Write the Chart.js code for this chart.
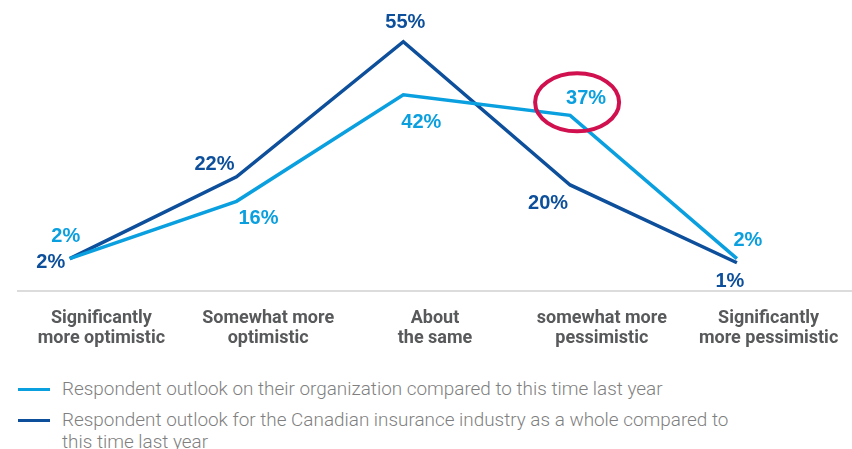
<!DOCTYPE html>
<html>
<head>
<meta charset="utf-8">
<script src="https://cdn.jsdelivr.net/npm/chart.js@4"></script>
<style>
  body { margin: 0; background: #fff; }
  .wrap { position: relative; width: 852px; height: 449px; overflow: hidden; }
  #outlook { position: absolute; left: 0; top: 0; }
  .legend { position: absolute; left: 18px; top: 378px; font-family: Roboto, "Liberation Sans", sans-serif; font-weight: 300; font-size: 18.9px; line-height: 22px; color: #7f7f7f; }
  .legend_item { position: relative; padding-left: 44px; width: 690px; margin-bottom: 9px; }
  .legend_item .swatch { position: absolute; left: 0; top: 10px; width: 32px; height: 3px; }
</style>
</head>
<body>
<div class="wrap">
  <canvas id="outlook" width="852" height="357"></canvas>
  <div class="legend" id="legend"></div>
</div>
<script>
const categories = [
  ["Significantly", "more optimistic"],
  ["Somewhat more", "optimistic"],
  ["About", "the same"],
  ["somewhat more", "pessimistic"],
  ["Significantly", "more pessimistic"]
];
const organizationOutlook = [2, 16, 42, 37, 2];
const industryOutlook = [2, 22, 55, 20, 1];
const seriesNames = [
  "Respondent outlook on their organization compared to this time last year",
  "Respondent outlook for the Canadian insurance industry as a whole compared to this time last year"
];

const LIGHT_BLUE = "#0a9fdf";
const DARK_BLUE = "#0d4f9b";

// where each value label sits relative to its point
const organizationLabelOffsets = [[-4, -22], [22, 17], [18, 28], [16, -17], [11, -18]];
const industryLabelOffsets = [[-19, 4], [-22, -12], [2, -19], [-22, 19], [-7, 19]];

function toPoints(values) {
  return values.map((v, i) => ({ x: i, y: v }));
}

// value labels next to each point
const valueLabels = {
  id: "valueLabels",
  afterDatasetsDraw(chart) {
    const ctx = chart.ctx;
    const offsets = [organizationLabelOffsets, industryLabelOffsets];
    ctx.save();
    ctx.font = "bold 20px 'Liberation Sans', Arial, sans-serif";
    ctx.textAlign = "center";
    ctx.textBaseline = "middle";
    chart.data.datasets.forEach((ds, di) => {
      const meta = chart.getDatasetMeta(di);
      ctx.fillStyle = ds.borderColor;
      meta.data.forEach((pt, i) => {
        const [dx, dy] = offsets[di][i];
        ctx.fillText(ds.data[i].y + "%", pt.x + dx, pt.y + dy);
      });
    });
    ctx.restore();
  }
};

// red ring around the 37% point
const highlightRing = {
  id: "highlightRing",
  afterDraw(chart) {
    const pt = chart.getDatasetMeta(0).data[3];
    const ctx = chart.ctx;
    ctx.save();
    ctx.strokeStyle = "#d0104f";
    ctx.lineWidth = 4;
    ctx.beginPath();
    ctx.ellipse(pt.x + 7, pt.y - 13, 42, 29, 0, 0, Math.PI * 2);
    ctx.stroke();
    ctx.restore();
  }
};

function renderLegend() {
  const legend = document.getElementById("legend");
  [LIGHT_BLUE, DARK_BLUE].forEach((color, i) => {
    const item = document.createElement("div");
    item.className = "legend_item";
    item.innerHTML = `<span class="swatch" style="background:${color}"></span>${seriesNames[i]}`;
    legend.appendChild(item);
  });
}

new Chart(document.getElementById("outlook"), {
  type: "line",
  data: {
    labels: categories,
    datasets: [
      {
        label: seriesNames[0],
        data: toPoints(organizationOutlook),
        borderColor: LIGHT_BLUE,
        borderWidth: 3.5,
        pointRadius: 0,
        tension: 0,
        xAxisID: "xLine"
      },
      {
        label: seriesNames[1],
        data: toPoints(industryOutlook),
        borderColor: DARK_BLUE,
        borderWidth: 3.5,
        pointRadius: 0,
        tension: 0,
        xAxisID: "xLine"
      }
    ]
  },
  options: {
    responsive: false,
    animation: false,
    layout: { padding: { top: 13, left: 18, right: 0, bottom: 0 } },
    plugins: {
      legend: { display: false },
      tooltip: { enabled: false }
    },
    scales: {
      x: {
        type: "category",
        offset: true,
        grid: { display: false },
        border: { display: true, color: "#dcdcdc", width: 2 },
        ticks: {
          color: "#58595b",
          padding: 9,
          maxRotation: 0,
          autoSkip: false,
          font: { family: "Roboto, 'Liberation Sans', sans-serif", size: 18, weight: "bold", lineHeight: 1.1 }
        }
      },
      xLine: {
        type: "linear",
        display: false,
        min: -0.31,
        max: 4.69
      },
      y: {
        display: false,
        min: -6,
        max: 62
      }
    }
  },
  plugins: [valueLabels, highlightRing]
});

renderLegend();
</script>
</body>
</html>
